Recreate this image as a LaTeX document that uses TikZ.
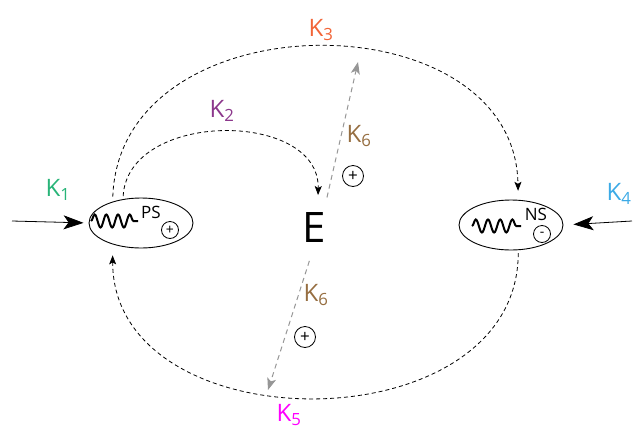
\documentclass[tikz,border=0pt]{standalone}
\usepackage{fontspec}
\setmainfont{Open Sans}
\definecolor{kgreen}{RGB}{40,180,120}
\definecolor{kpurple}{RGB}{140,55,140}
\definecolor{korange}{RGB}{242,100,55}
\definecolor{kblue}{RGB}{60,170,230}
\definecolor{kmagenta}{RGB}{255,0,255}
\definecolor{kbrown}{RGB}{150,110,65}
\definecolor{kgray}{RGB}{150,150,150}
\usetikzlibrary{arrows.meta,shapes.geometric,decorations.pathmorphing,calc}

\begin{document}
\begin{tikzpicture}[x=1pt,y=-1pt,
  cell/.style={draw,ellipse,line width=0.9pt,minimum width=104pt,minimum height=50pt,inner sep=0pt},
  wave/.style={line width=2pt,decorate,decoration={snake,segment length=#1,amplitude=6.5pt}},
  tag/.style={font=\fontsize{17}{17}\selectfont,inner sep=0pt},
  sign/.style={draw,circle,line width=0.8pt,minimum size=21pt,inner sep=0pt,font=\fontsize{17}{17}\selectfont},
  smallsign/.style={sign,minimum size=17pt,font=\fontsize{14}{14}\selectfont},
  klab/.style={font=\fontsize{24}{28}\selectfont,inner sep=0pt},
  feed/.style={line width=0.8pt,-{Stealth[length=20pt,width=14pt,inset=5pt]}},
  flux/.style={line width=0.8pt,dash pattern=on 4pt off 3pt,-{Stealth[length=9pt,width=7pt,inset=2pt]}},
  gflux/.style={kgray,line width=1pt,dash pattern=on 5pt off 4pt,-{Stealth[length=12pt,width=9pt,inset=3pt]}}]
  \useasboundingbox (0,0) rectangle (635,429);

  \node[cell] (ps) at (141,223) {};
  \node[cell] (ns) at (511,225) {};
  \draw[wave=11.7pt] (91,221) -- (138,221);
  \draw[wave=12.2pt] (472,226) -- (521,226);
  \node[tag] (pstext) at (151,212) {PS};
  \node[tag] (nstext) at (536,214) {NS};
  \node[smallsign] (pssign) at (170,230) {+};
  \node[smallsign] (nssign) at (542,234) {-};

  \node[circle,minimum size=66pt,inner sep=0pt,font=\fontsize{42}{42}\selectfont] (e) at (314,228) {E};

  \coordinate (k1in) at (12,221);
  \coordinate (k4in) at (632,221);
  \coordinate (k6top) at (358,62);
  \coordinate (k6bot) at (268,390);

  \draw[feed,shorten >=5pt] (k1in) -- (ps.west);
  \draw[feed,shorten >=10pt] (k4in) -- (ns.east);

  \draw[flux,shorten <=5pt,shorten >=9pt] (ps.143) .. controls (120,-3) and (515,-3) .. (ns.74);
  \draw[flux,shorten <=3pt] (ps.127) .. controls (128,110) and (320,110) .. (e.83);
  \draw[flux,shorten <=3pt,shorten >=11pt] (ns.-74) .. controls (518,446) and (113,446) .. (ps.-143);
  \draw[gflux] (e.67) -- (k6top);
  \draw[gflux] (e.262) -- (k6bot);

  \node[sign] (upsign) at (353,176) {+};
  \node[sign] (downsign) at (305,337) {+};

  \node[klab,text=kgreen] (k1) at (58,190) {K\textsubscript{1}};
  \node[klab,text=kpurple] (k2) at (222,111) {K\textsubscript{2}};
  \node[klab,text=korange] (k3) at (321,30) {K\textsubscript{3}};
  \node[klab,text=kblue] (k4) at (619,194) {K\textsubscript{4}};
  \node[klab,text=kmagenta] (k5) at (289,415) {K\textsubscript{5}};
  \node[klab,text=kbrown] (k6a) at (359,136) {K\textsubscript{6}};
  \node[klab,text=kbrown] (k6b) at (316,295) {K\textsubscript{6}};
\end{tikzpicture}
\end{document}
